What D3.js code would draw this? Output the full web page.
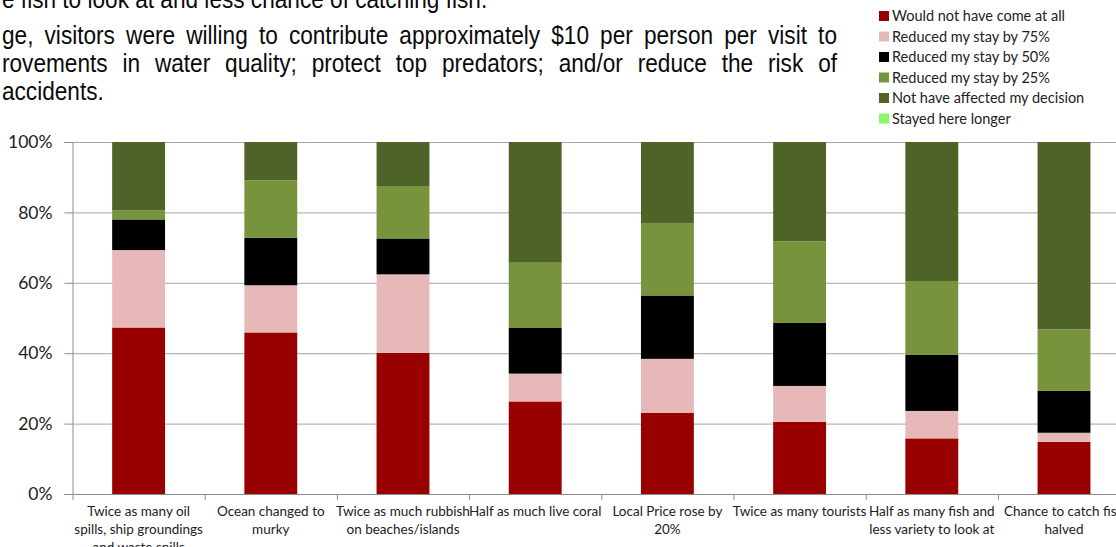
<!DOCTYPE html>
<html lang="en">
<head>
    <meta charset="UTF-8">
    <title>Visitor response to environmental change</title>
    <style>
        html, body { margin: 0; padding: 0; background: #fff; }
        svg { display: block; }
    </style>
</head>
<body>
    <div id="chart"></div>
    <script src="https://d3js.org/d3.v7.min.js"></script>
    <script>
        // Data (percent of respondents)
        const categories = [
            ["Twice as many oil", "spills, ship groundings", "and waste spills"],
            ["Ocean changed to", "murky"],
            ["Twice as much rubbish", "on beaches/islands"],
            ["Half as much live coral"],
            ["Local Price rose by", "20%"],
            ["Twice as many tourists"],
            ["Half as many fish and", "less variety to look at"],
            ["Chance to catch fish", "halved"]
        ];
        const seriesNames = [
            "Would not have come at all",
            "Reduced my stay by 75%",
            "Reduced my stay by 50%",
            "Reduced my stay by 25%",
            "Not have affected my decision",
            "Stayed here longer"
        ];
        const wouldNotCome = [47.3, 45.9, 40.1, 26.3, 23.1, 20.5, 15.8, 14.8];
        const reduced75    = [22.0, 13.4, 22.3,  7.9, 15.3, 10.2,  7.8,  2.6];
        const reduced50    = [ 8.7, 13.5, 10.2, 13.1, 18.0, 17.9, 15.9, 11.9];
        const reduced25    = [ 2.6, 16.3, 14.9, 18.4, 20.6, 23.2, 21.0, 17.5];
        const notAffected  = [19.4, 10.9, 12.5, 34.3, 23.0, 28.2, 39.5, 53.2];
        const stayedLonger = [ 0,    0,    0,    0,    0,    0,    0,    0  ];
        const yTicks = [0, 20, 40, 60, 80, 100];

        const textLines = [
            "e fish to look at and less chance of catching fish.",
            "ge, visitors were willing to contribute approximately $10 per person per visit to",
            "rovements in water quality; protect top predators; and/or reduce the risk of",
            "accidents."
        ];

        const colors = ["#990000", "#e6b9b8", "#000000", "#77933c", "#4f6228", "#8cf56e"];
        const allSeries = [wouldNotCome, reduced75, reduced50, reduced25, notAffected, stayedLonger];

        const WIDTH = 1116, HEIGHT = 547;
        const X0 = 72.5, STEP = 132.2;
        const TOP = 142, BOTTOM = 494;
        const NARROW = 0.87; // no Arial Narrow installed, squeeze Liberation Sans instead

        const rows = categories.map((c, i) => {
            const r = { cat: i };
            seriesNames.forEach((s, j) => r[s] = allSeries[j][i]);
            return r;
        });

        const svg = d3.select("#chart").append("svg")
            .attr("width", WIDTH)
            .attr("height", HEIGHT);

        // slide text above the chart (lines 2 and 3 are justified)
        const para = svg.append("g")
            .attr("transform", `scale(${NARROW},1)`)
            .attr("font-family", "'Liberation Sans', Arial, sans-serif")
            .attr("font-size", 26)
            .attr("fill", "#0a0a0a");
        const lineY = [8, 44, 72, 100];
        textLines.forEach((t, i) => {
            const el = para.append("text").attr("x", 2 / NARROW).attr("y", lineY[i]).text(t);
            if (i === 1 || i === 2) {
                const gaps = t.split(" ").length - 1;
                const extra = 835 / NARROW - el.node().getComputedTextLength();
                el.attr("word-spacing", extra / gaps);
            }
        });

        const x = d3.scaleBand()
            .domain(d3.range(categories.length))
            .range([X0, X0 + STEP * categories.length])
            .paddingInner(0.6)
            .paddingOuter(0.3);

        const y = d3.scaleLinear()
            .domain([0, 100])
            .range([BOTTOM, TOP]);

        // gridlines
        svg.append("g")
            .selectAll("line")
            .data(yTicks.filter(d => d > 0))
            .join("line")
            .attr("x1", X0).attr("x2", WIDTH)
            .attr("y1", d => y(d) + 0.5).attr("y2", d => y(d) + 0.5)
            .attr("stroke", "#a6a6a6");

        // stacked bars
        const stack = d3.stack().keys(seriesNames)(rows);
        svg.append("g")
            .selectAll("g")
            .data(stack)
            .join("g")
            .attr("fill", (d, i) => colors[i])
            .selectAll("rect")
            .data(d => d)
            .join("rect")
            .attr("x", d => x(d.data.cat))
            .attr("width", x.bandwidth())
            .attr("y", d => y(d[1]))
            .attr("height", d => y(d[0]) - y(d[1]));

        // y axis
        const yAxis = svg.append("g")
            .attr("transform", `translate(${X0},0)`)
            .call(d3.axisLeft(y).tickValues(yTicks).tickSize(8).tickPadding(12).tickFormat(d => d + "%"));
        yAxis.selectAll("path, line").attr("stroke", "#8c8c8c");
        yAxis.selectAll("text")
            .attr("font-family", "Lato, 'Open Sans', sans-serif")
            .attr("font-size", 17.5)
            .attr("fill", "#222");

        // x axis with ticks between categories
        const xAxis = svg.append("g").attr("transform", `translate(0,${BOTTOM})`);
        xAxis.append("line")
            .attr("x1", X0).attr("x2", WIDTH)
            .attr("y1", 0.5).attr("y2", 0.5)
            .attr("stroke", "#8c8c8c");
        xAxis.selectAll(".sep")
            .data(d3.range(categories.length + 1))
            .join("line")
            .attr("class", "sep")
            .attr("x1", i => X0 + i * x.step() + 0.5)
            .attr("x2", i => X0 + i * x.step() + 0.5)
            .attr("y1", 0).attr("y2", 6)
            .attr("stroke", "#8c8c8c");

        const labels = xAxis.selectAll(".cat")
            .data(categories)
            .join("text")
            .attr("class", "cat")
            .attr("text-anchor", "middle")
            .attr("font-family", "Lato, 'Open Sans', sans-serif")
            .attr("font-size", 13.5)
            .attr("fill", "#222")
            .attr("transform", (d, i) => `translate(${x(i) + x.bandwidth() / 2},0)`);
        labels.selectAll("tspan")
            .data(d => d)
            .join("tspan")
            .attr("x", 0)
            .attr("y", (d, i) => 22 + i * 18)
            .text(d => d);

        // legend
        const legend = svg.append("g").attr("transform", "translate(879,16)");
        const item = legend.selectAll("g")
            .data(seriesNames)
            .join("g")
            .attr("transform", (d, i) => `translate(0,${i * 20.5})`);
        item.append("rect")
            .attr("x", 0).attr("y", -5)
            .attr("width", 10).attr("height", 10)
            .attr("fill", (d, i) => colors[i]);
        item.append("text")
            .attr("x", 13).attr("y", 5)
            .attr("font-family", "Lato, 'Open Sans', sans-serif")
            .attr("font-size", 14.5)
            .attr("fill", "#222")
            .text(d => d);
    </script>
</body>
</html>
